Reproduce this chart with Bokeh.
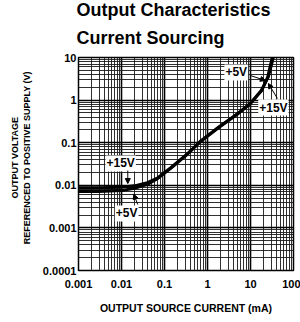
from bokeh.plotting import figure
from bokeh.models import FixedTicker, Label, Arrow, NormalHead, Title
from bokeh.embed import file_html
from bokeh.resources import INLINE

# ---- data ----
x_major = [0.001, 0.01, 0.1, 1, 10, 100]
x_major_labels = ["0.001", "0.01", "0.1", "1", "10", "100"]
y_major = [0.0001, 0.001, 0.01, 0.1, 1, 10]
y_major_labels = ["0.0001", "0.001", "0.01", "0.1", "1", "10"]
minor_mult = [2, 3, 4, 5, 6, 7, 8, 9]

current_15v = [0.001, 0.003, 0.01, 0.02, 0.04, 0.07, 0.14, 0.35, 0.7, 1.8, 5, 10, 18, 26, 34]
vout_15v = [0.0088, 0.0088, 0.009, 0.0097, 0.0115, 0.015, 0.026, 0.056, 0.11, 0.23, 0.48, 0.85, 1.7, 3.5, 10]
current_5v = [0.001, 0.003, 0.01, 0.02, 0.04, 0.07, 0.14, 0.35, 0.7, 1.8, 5, 10, 18, 25, 32]
vout_5v = [0.0072, 0.0072, 0.0075, 0.0085, 0.0105, 0.0145, 0.025, 0.055, 0.108, 0.225, 0.47, 0.83, 1.65, 3.4, 10]

title_line1 = "Output Characteristics"
title_line2 = "Current Sourcing"

x_minor = [m * d for d in x_major[:-1] for m in minor_mult]
y_minor = [m * d for d in y_major[:-1] for m in minor_mult]

FONT = "Liberation Sans"
NB = "\u00a0" * 5

p = figure(width=300, height=316, x_axis_type="log", y_axis_type="log",
           x_range=(0.001, 100), y_range=(0.0001, 10),
           output_backend="svg", toolbar_location=None, title=None,
           min_border_left=78, min_border_right=7, min_border_top=57,
           min_border_bottom=46, background_fill_color="white",
           border_fill_color="white")

# titles: second line nearest the frame, first line above it
sub = Title(text=title_line2, align="left", text_font=FONT,
            text_font_size="18px", text_font_style="bold", standoff=18.5,
            text_color="black", offset=-2)
main = Title(text=title_line1, align="left", text_font=FONT,
             text_font_size="18px", text_font_style="bold", standoff=-6,
             text_color="black", offset=-2)
p.add_layout(sub, "above")
p.add_layout(main, "above")

# axes
p.xaxis.ticker = FixedTicker(ticks=x_major, minor_ticks=x_minor)
p.yaxis.ticker = FixedTicker(ticks=y_major, minor_ticks=y_minor)
p.xaxis.major_label_overrides = {v: s for v, s in zip(x_major, x_major_labels)}
p.yaxis.major_label_overrides = {v: s for v, s in zip(y_major, y_major_labels)}
for ax in (p.xaxis, p.yaxis):
    ax.axis_line_color = None
    ax.major_tick_line_color = None
    ax.minor_tick_line_color = None
    ax.major_tick_out = 0
    ax.major_tick_in = 0
    ax.minor_tick_out = 0
    ax.minor_tick_in = 0
    ax.major_label_text_font = FONT
    ax.major_label_text_font_style = "bold"
    ax.major_label_text_font_size = "11px"
    ax.major_label_text_color = "black"
    ax.axis_label_text_font = FONT
    ax.axis_label_text_font_style = "bold"
    ax.axis_label_text_color = "black"

p.xaxis.axis_label = "OUTPUT SOURCE CURRENT (mA)"
p.xaxis.axis_label_text_font_size = "10.5px"
p.xaxis.major_label_standoff = 9
p.xaxis.axis_label_standoff = 11

p.yaxis.axis_label = NB + "OUTPUT VOLTAGE\n" + NB + "REFERENCED TO POSITIVE SUPPLY (V)"
p.yaxis.axis_label_text_font_size = "9px"
p.yaxis.major_label_standoff = 2
p.yaxis.axis_label_standoff = 8

# grid
for g in (p.xgrid, p.ygrid):
    g.grid_line_color = "black"
    g.grid_line_width = 1.6
    g.grid_line_alpha = 1.0
    g.minor_grid_line_color = "#1a1a1a"
    g.minor_grid_line_width = 0.9
    g.minor_grid_line_alpha = 1.0

p.outline_line_color = "black"
p.outline_line_width = 1.5

# curves
p.line(current_15v, vout_15v, line_color="black", line_width=3)
p.line(current_5v, vout_5v, line_color="black", line_width=3)

# annotations
def add_label(x, y, text):
    p.add_layout(Label(x=x, y=y, text=text, text_align="center",
                       text_baseline="middle", text_font=FONT,
                       text_font_size="12px", text_font_style="bold",
                       text_color="black", background_fill_color="white",
                       padding=1))

def add_arrow(x0, y0, x1, y1):
    p.add_layout(Arrow(end=NormalHead(size=5, fill_color="black",
                                      line_color="black"),
                       x_start=x0, y_start=y0, x_end=x1, y_end=y1,
                       line_color="black", line_width=1))

add_label(4.66, 4.45, "+5V")
add_arrow(9.9, 3.78, 22.2, 2.88)
add_label(34.1, 0.67, "+15V")
add_arrow(42.3, 1.09, 26.0, 2.45)
add_label(0.00957, 0.0325, "+15V")
add_arrow(0.014, 0.0222, 0.014, 0.011)
add_label(0.0132, 0.00218, "+5V")
add_arrow(0.0239, 0.00354, 0.0193, 0.0062)

open("out.html", "w").write(file_html(p, INLINE))
